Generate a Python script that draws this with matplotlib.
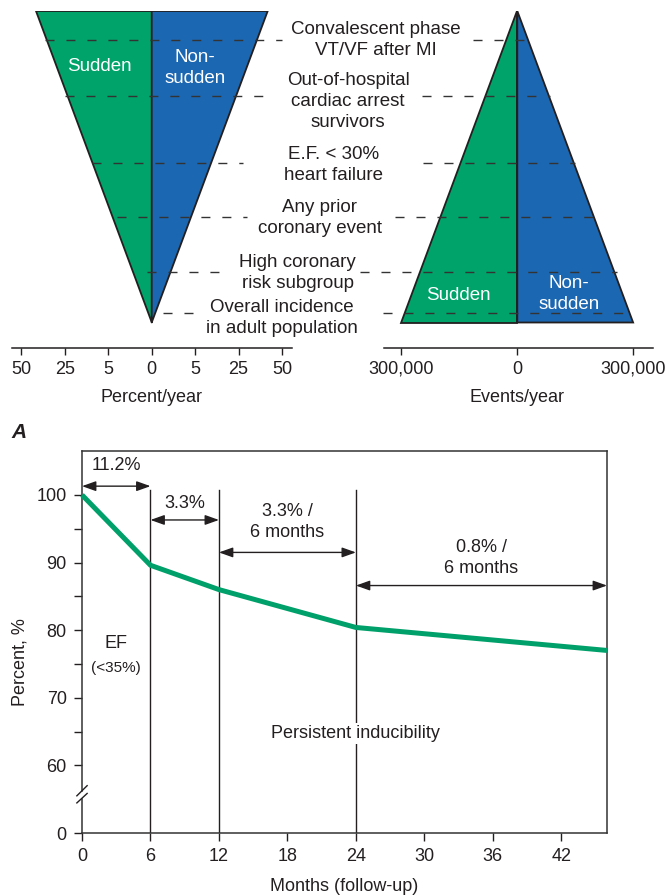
import matplotlib
matplotlib.use("Agg")
import matplotlib.pyplot as plt
from matplotlib.patches import Polygon
from matplotlib import transforms

plt.rcParams['font.family'] = ['Liberation Sans', 'DejaVu Sans']

INK = '#231f20'
GREEN = '#00a36a'
BLUE = '#1c67b1'
LINE_GREEN = '#00a06a'

# ---------------- Top panel data ----------------
risk_groups = [
    "Convalescent phase\nVT/VF after MI",
    "Out-of-hospital\ncardiac arrest\nsurvivors",
    "E.F. < 30%\nheart failure",
    "Any prior\ncoronary event",
    "High coronary\nrisk subgroup",
    "Overall incidence\nin adult population",
]
# height of each subgroup's leader line above the triangle base
group_levels = [282.5, 227.0, 159.2, 105.8, 50.8, 9.2]

pct_tick_pos = [-3, -2, -1, 0, 1, 2, 3]
pct_tick_labels = ["50", "25", "5", "0", "5", "25", "50"]
pct_halfwidth_top = 2.67          # half width of the incidence wedge at the top

events_ticks = [-300000, 0, 300000]
events_tick_labels = ["300,000", "0", "300,000"]
events_halfwidth_base = 300000    # half width of the events wedge at the base

wedge_height = 311.5

# ---------------- Bottom panel data ----------------
months = [0, 6, 12, 24, 46]
survival = [100, 89.6, 86.0, 80.4, 77.0]
month_ticks = [0, 6, 12, 18, 24, 30, 36, 42]
phase_bounds = [6, 12, 24]
interval_start = [0, 6, 12, 24]
interval_end = [6, 12, 24, 46]
interval_labels = ["11.2%", "3.3%", "3.3% /\n6 months", "0.8% /\n6 months"]

# ---------------- Layout ----------------
W, H = 670, 896
fig = plt.figure(figsize=(W / 100, H / 100), dpi=100)


def fx(px):
    return px / W


def fy(py):
    return 1 - py / H


# left wedge (percent/year)
axL = fig.add_axes([fx(12.3), fy(348.3), (291.7 - 12.3) / W, (348.3 - 11) / H])
axL.set_xlim(-3.208, 3.222)
axL.set_ylim(-25.8, wedge_height)
# right wedge (events/year)
axR = fig.add_axes([fx(384), fy(348.3), (653.3 - 384) / W, (348.3 - 11) / H])
axR.set_xlim(-345300, 352300)
axR.set_ylim(-25.8, wedge_height)

for a in (axL, axR):
    for s in ('left', 'right', 'top'):
        a.spines[s].set_visible(False)
    a.spines['bottom'].set_color(INK)
    a.spines['bottom'].set_linewidth(1.1)
    a.set_yticks([])
    a.patch.set_visible(False)
    a.tick_params(axis='x', direction='out', length=5, width=1.0, color=INK,
                  labelsize=13, labelcolor=INK, pad=4)

axL.set_xticks(pct_tick_pos, pct_tick_labels)
axR.set_xticks(events_ticks, events_tick_labels)
axL.set_xlabel("Percent/year", fontsize=13, color=INK, va='center')
axR.set_xlabel("Events/year", fontsize=13, color=INK, va='center')
axL.xaxis.set_label_coords(0.5, -(397 - 348.3) / 337.3)
axR.xaxis.set_label_coords((517.3 - 384) / 269.3, -(397 - 348.3) / 337.3)

edge_kw = dict(edgecolor=INK, linewidth=1.3, joinstyle='miter')
# inverted wedge: sudden vs non-sudden percent/year
axL.add_patch(Polygon([(-pct_halfwidth_top, wedge_height), (0, wedge_height), (0, 0)],
                      closed=True, facecolor=GREEN, **edge_kw))
axL.add_patch(Polygon([(0, wedge_height), (pct_halfwidth_top, wedge_height), (0, 0)],
                      closed=True, facecolor=BLUE, **edge_kw))
axL.text(-1.213, 255.8, "Sudden", color='white', fontsize=13.5, ha='center', va='center')
axL.text(0.997, 254.8, "Non-\nsudden", color='white', fontsize=13.5, ha='center',
         va='center', linespacing=1.3)

# upright wedge: sudden vs non-sudden events/year
axR.add_patch(Polygon([(-events_halfwidth_base, 0), (0, 0), (0, wedge_height)],
                      closed=True, facecolor=GREEN, **edge_kw))
axR.add_patch(Polygon([(0, 0), (events_halfwidth_base, 0), (0, wedge_height)],
                      closed=True, facecolor=BLUE, **edge_kw))
axR.text(-153600, 27.5, "Sudden", color='white', fontsize=13.5, ha='center', va='center')
axR.text(134000, 28.5, "Non-\nsudden", color='white', fontsize=13.5, ha='center',
         va='center', linespacing=1.3)

# overlay for the subgroup labels and the dashed leaders
axO = fig.add_axes([0, 0, 1, 1])
axO.set_xlim(0, W)
axO.set_ylim(0, 1)
axO.axis('off')
lvl = transforms.blended_transform_factory(axO.transData, axL.transData)

label_x = [376, 348, 333.5, 320, 297.5, 282]
label_y = [282.5, 220.8, 157.5, 104.2, 49.5, 4.2]
leader_left = [(45, 282), (65, 267), (92, 243), (117, 247), (147, 227), (163, 197)]
leader_right = [(473, 529), (422, 550), (423, 575), (395, 595), (360, 617), (383, 632)]

for name, y, lx, ly, (a0, a1), (b0, b1) in zip(risk_groups, group_levels, label_x,
                                                  label_y, leader_left, leader_right):
    axO.text(lx, ly, name, transform=lvl, ha='center', va='center', fontsize=13.5,
             color=INK, linespacing=1.3, multialignment='center')
    for x0, x1 in ((a0, a1), (b0, b1)):
        axO.plot([x0, x1], [y, y], transform=lvl, color='#333333', lw=1.0,
                 linestyle=(0, (6.5, 8.6)), dash_capstyle='butt')

fig.text(fx(19), fy(432), "A", fontsize=15, fontweight='bold', fontstyle='italic',
         color=INK, ha='center', va='center')

# ---------------- Bottom panel ----------------
ax = fig.add_axes([fx(82), fy(833), (607 - 82) / W, (833 - 451) / H])
ax.set_xlim(0, 46)
ax.set_ylim(50, 106.5)

for s in ax.spines.values():
    s.set_color('#333333')
    s.set_linewidth(1.1)
ax.spines['left'].set_bounds(56.25, 106.5)
ax.plot([0, 0], [50, 55.1], color='#333333', lw=1.1, clip_on=False, zorder=3)
# axis break marks
ax.plot([-0.45, 0.45], [55.5, 57.0], color=INK, lw=1.0, clip_on=False, zorder=3)
ax.plot([-0.45, 0.45], [54.45, 55.85], color=INK, lw=1.0, clip_on=False, zorder=3)

ax.set_xticks(month_ticks)
ax.set_yticks([50, 60, 70, 80, 90, 100], ["0", "60", "70", "80", "90", "100"])
ax.set_yticks([65, 75, 85, 95], minor=True)
ax.tick_params(axis='both', which='both', direction='out', length=6, width=1.0,
               color=INK, labelsize=13, labelcolor=INK, pad=5)

for xb in phase_bounds:
    ax.plot([xb, xb], [50, 100.7], color=INK, lw=1.0, zorder=2)

ax.plot(months, survival, color=LINE_GREEN, lw=3.6, solid_joinstyle='round',
        solid_capstyle='butt', zorder=4, clip_on=False)

arrow_y = [101.3, 96.3, 91.5, 86.6]
text_y = [104.3, 98.8, 96.0, 90.7]
for x0, x1, lab, ay, ty in zip(interval_start, interval_end, interval_labels, arrow_y, text_y):
    ax.annotate('', xy=(x1, ay), xytext=(x0, ay),
                arrowprops=dict(arrowstyle='<|-|>,head_length=0.7,head_width=0.25',
                                color=INK, lw=1.0, shrinkA=0, shrinkB=0,
                                mutation_scale=12))
    ax.text((x0 + x1) / 2, ty, lab, ha='center', va='center', fontsize=13,
            color=INK, linespacing=1.35)

ax.text(3, 78.0, "EF", ha='center', va='center', fontsize=13, color=INK)
ax.text(3, 74.4, "(<35%)", ha='center', va='center', fontsize=11, color=INK)
ax.text(24, 64.7, "Persistent inducibility", ha='center', va='center', fontsize=13,
        color=INK, zorder=5,
        bbox=dict(facecolor='white', edgecolor='none', pad=1.5))

ax.set_xlabel("Months (follow-up)", fontsize=13, color=INK, va='center')
ax.xaxis.set_label_coords(0.5, -(886 - 833) / 382)
ax.set_ylabel("Percent, %", fontsize=13, color=INK, va='center')
ax.yaxis.set_label_coords((20 - 82) / 525, (833 - 662) / 382)

fig.savefig("out.png", dpi=100)
